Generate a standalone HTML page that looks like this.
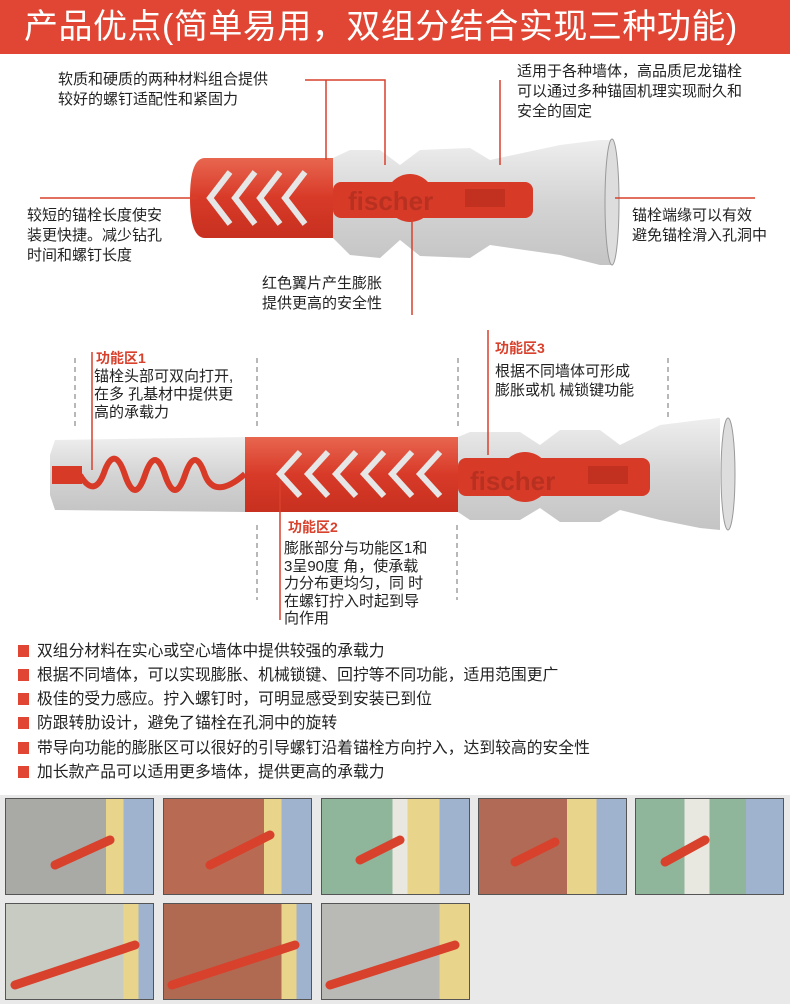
<!DOCTYPE html>
<html><head><meta charset="utf-8"><style>
*{margin:0;padding:0;box-sizing:border-box}
body{width:790px;height:1004px;background:#fff;position:relative;overflow:hidden;font-family:"Liberation Sans","Noto Sans CJK SC",sans-serif;color:#222}
.t{position:absolute;font-size:15px;line-height:20px;white-space:nowrap}
.r{color:#d8412c;font-weight:bold;font-size:14px}
.hdr{position:absolute;left:0;top:0;width:790px;height:54px;background:#e04633;color:#fff;font-size:34px;letter-spacing:0.5px;line-height:54px;padding-left:24px;white-space:nowrap}
.b{position:absolute;left:18px;font-size:15.8px;line-height:20px;white-space:nowrap}
.b::before{content:"";display:inline-block;width:11px;height:12px;background:#e04633;margin-right:8px;vertical-align:-1px}
.ph{position:absolute;width:149px;height:97px;border:1px solid #555}
</style></head><body>
<div class="hdr">产品优点(简单易用，双组分结合实现三种功能)</div>

<svg width="790" height="795" style="position:absolute;left:0;top:0">
<defs>
<linearGradient id="g" x1="0" y1="0" x2="0" y2="1"><stop offset="0" stop-color="#eee"/><stop offset=".5" stop-color="#d4d4d4"/><stop offset="1" stop-color="#c4c4c4"/></linearGradient>
<linearGradient id="rd" x1="0" y1="0" x2="0" y2="1"><stop offset="0" stop-color="#e8664f"/><stop offset=".5" stop-color="#d83a28"/><stop offset="1" stop-color="#c8301f"/></linearGradient>
</defs>
<polygon points="333,158 350,150 380,150 400,165 420,150 470,148 490,160 560,145 600,140 611,140 611,265 600,265 560,255 490,245 470,258 420,256 400,240 380,258 350,255 333,238" fill="url(#g)"/>
<ellipse cx="612" cy="202" rx="7" ry="63" fill="#ddd" stroke="#999"/>
<path d="M205,158 H333 V238 H205 Q190,238 190,198 Q190,158 205,158Z" fill="url(#rd)"/>
<g fill="none" stroke="#e6e6e6" stroke-width="6">
<path d="M230,172 L210,198 L230,224"/><path d="M255,172 L235,198 L255,224"/><path d="M280,172 L260,198 L280,224"/><path d="M305,172 L285,198 L305,224"/></g>
<rect x="333" y="182" width="200" height="36" rx="8" fill="#d83a28"/>
<circle cx="410" cy="198" r="24" fill="#d83a28"/>
<text x="348" y="210" font-family="Liberation Sans" font-weight="bold" font-size="26" fill="#b83020">fischer</text>
<rect x="465" y="189" width="40" height="18" fill="#c23020"/>
<g stroke="#d8412c" stroke-width="1.5" fill="none">
<path d="M305,80 H385 V165"/><path d="M326,80 V160"/><path d="M500,80 V165"/>
<path d="M40,198 H197"/><path d="M615,198 H755"/><path d="M412,218 V315"/>
</g>
<polygon points="55,440 245,437 245,512 55,510 50,495 50,455" fill="url(#g)"/>
<polygon points="458,437 470,432 520,432 540,445 560,430 600,430 620,445 660,425 700,420 720,418 720,530 700,528 660,520 620,510 600,522 560,522 540,508 520,520 470,520 458,512" fill="url(#g)"/>
<ellipse cx="728" cy="474" rx="7" ry="56" fill="#ddd" stroke="#999"/>
<rect x="245" y="437" width="213" height="75" fill="url(#rd)"/>
<g fill="none" stroke="#e6e6e6" stroke-width="6">
<path d="M300,452 L280,474 L300,496"/><path d="M328,452 L308,474 L328,496"/><path d="M356,452 L336,474 L356,496"/><path d="M384,452 L364,474 L384,496"/><path d="M412,452 L392,474 L412,496"/><path d="M440,452 L420,474 L440,496"/></g>
<rect x="52" y="466" width="30" height="18" fill="#d83a28"/>
<path d="M80,475 Q95,500 105,470 Q115,445 125,475 Q135,505 145,475 Q155,445 165,475 Q175,505 185,475 Q195,445 205,475 Q215,500 245,474" fill="none" stroke="#d83a28" stroke-width="6"/>
<rect x="458" y="458" width="192" height="38" rx="8" fill="#d83a28"/>
<circle cx="525" cy="477" r="25" fill="#d83a28"/>
<text x="470" y="490" font-family="Liberation Sans" font-weight="bold" font-size="26" fill="#b83020">fischer</text>
<rect x="588" y="466" width="40" height="18" fill="#c23020"/>
<g stroke="#888" stroke-width="1.2" stroke-dasharray="5,4">
<path d="M75,358 V430"/><path d="M257,358 V430"/><path d="M458,358 V430"/><path d="M668,358 V420"/>
<path d="M257,525 V600"/><path d="M457,525 V600"/></g>
<g stroke="#d8412c" stroke-width="1.5"><path d="M92,352 V470"/><path d="M488,330 V455"/><path d="M280,480 V620"/></g>
</svg>

<div class="t" style="left:58px;top:70px">软质和硬质的两种材料组合提供<br>较好的螺钉适配性和紧固力</div>
<div class="t" style="left:517px;top:62px">适用于各种墙体，高品质尼龙锚栓<br>可以通过多种锚固机理实现耐久和<br>安全的固定</div>
<div class="t" style="left:27px;top:206px">较短的锚栓长度使安<br>装更快捷。减少钻孔<br>时间和螺钉长度</div>
<div class="t" style="left:632px;top:206px">锚栓端缘可以有效<br>避免锚栓滑入孔洞中</div>
<div class="t" style="left:262px;top:274px">红色翼片产生膨胀<br>提供更高的安全性</div>

<div class="t r" style="left:96px;top:348px">功能区1</div>
<div class="t" style="left:94px;top:368px;line-height:18px">锚栓头部可双向打开,<br>在多 孔基材中提供更<br>高的承载力</div>
<div class="t r" style="left:495px;top:338px">功能区3</div>
<div class="t" style="left:495px;top:362px;line-height:19px">根据不同墙体可形成<br>膨胀或机 械锁键功能</div>
<div class="t r" style="left:288px;top:517px">功能区2</div>
<div class="t" style="left:284px;top:540px;line-height:17.5px">膨胀部分与功能区1和<br>3呈90度 角，使承载<br>力分布更均匀，同 时<br>在螺钉拧入时起到导<br>向作用</div>

<div class="b" style="top:642px">双组分材料在实心或空心墙体中提供较强的承载力</div>
<div class="b" style="top:666px">根据不同墙体，可以实现膨胀、机械锁键、回拧等不同功能，适用范围更广</div>
<div class="b" style="top:690px">极佳的受力感应。拧入螺钉时，可明显感受到安装已到位</div>
<div class="b" style="top:714px">防跟转肋设计，避免了锚栓在孔洞中的旋转</div>
<div class="b" style="top:739px">带导向功能的膨胀区可以很好的引导螺钉沿着锚栓方向拧入，达到较高的安全性</div>
<div class="b" style="top:763px">加长款产品可以适用更多墙体，提供更高的承载力</div>

<div style="position:absolute;left:0;top:795px;width:790px;height:209px;background:#e9e9e9"></div>
<div class="ph" style="left:5px;top:798px;background:linear-gradient(90deg,#a9aaa6 0 68%,#e8d48a 68% 80%,#9fb3cf 80%)"></div>
<div class="ph" style="left:163px;top:798px;background:linear-gradient(90deg,#b86a52 0 68%,#e8d48a 68% 80%,#9fb3cf 80%)"></div>
<div class="ph" style="left:321px;top:798px;background:linear-gradient(90deg,#8fb59a 0 48%,#e8e8e0 48% 58%,#e8d48a 58% 80%,#9fb3cf 80%)"></div>
<div class="ph" style="left:478px;top:798px;background:linear-gradient(90deg,#b06a55 0 60%,#e8d48a 60% 80%,#9fb3cf 80%)"></div>
<div class="ph" style="left:635px;top:798px;background:linear-gradient(90deg,#8fb59a 0 33%,#e8e8e0 33% 50%,#8fb59a 50% 75%,#9fb3cf 75%)"></div>
<div class="ph" style="left:5px;top:903px;background:linear-gradient(90deg,#c8cbc2 0 80%,#e8d48a 80% 90%,#9fb3cf 90%)"></div>
<div class="ph" style="left:163px;top:903px;background:linear-gradient(90deg,#b06a52 0 80%,#e8d48a 80% 90%,#9fb3cf 90%)"></div>
<div class="ph" style="left:321px;top:903px;background:linear-gradient(90deg,#b9b9b6 0 80%,#e8d48a 80%)"></div>
<svg width="790" height="1004" style="position:absolute;left:0;top:0">
<g stroke="#d8412c" stroke-width="9" stroke-linecap="round">
<path d="M55,865 L110,840"/><path d="M210,865 L270,835"/><path d="M360,860 L400,840"/><path d="M515,862 L555,842"/><path d="M665,862 L705,840"/>
<path d="M15,985 L135,945"/><path d="M172,985 L295,945"/><path d="M330,985 L455,945"/></g>
</svg>
</body></html>
